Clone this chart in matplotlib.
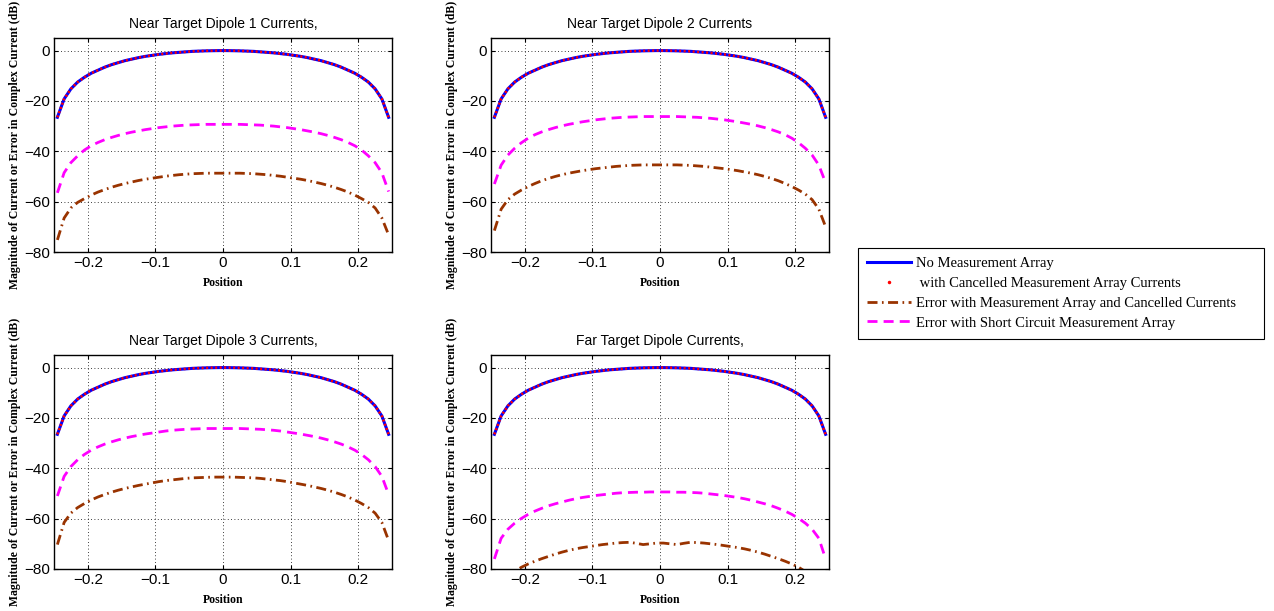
import numpy as np
import matplotlib
matplotlib.use('Agg')
import matplotlib.pyplot as plt
from matplotlib.lines import Line2D

plt.rcParams['font.family'] = 'Liberation Sans'
plt.rcParams['axes.unicode_minus'] = True

## positions along the dipole
position = [-0.245, -0.235, -0.225, -0.215, -0.205, -0.195, -0.185, -0.175, -0.165, -0.155,
            -0.145, -0.135, -0.125, -0.115, -0.105, -0.095, -0.085, -0.075, -0.065, -0.055,
            -0.045, -0.035, -0.025, -0.015, -0.005, 0.005, 0.015, 0.025, 0.035, 0.045,
            0.055, 0.065, 0.075, 0.085, 0.095, 0.105, 0.115, 0.125, 0.135, 0.145,
            0.155, 0.165, 0.175, 0.185, 0.195, 0.205, 0.215, 0.225, 0.235, 0.245]

## no measurement array (same in every panel, cancelled currents lie on top of it)
no_array = [-26.5, -19.2, -15.2, -12.5, -10.6, -9.0, -7.8, -6.6, -5.6, -4.8,
            -4.0, -3.4, -2.8, -2.3, -1.9, -1.5, -1.2, -0.9, -0.7, -0.5,
            -0.3, -0.2, -0.1, -0.05, 0.0, 0.0, -0.05, -0.1, -0.2, -0.3,
            -0.5, -0.7, -0.9, -1.2, -1.5, -1.9, -2.3, -2.8, -3.4, -4.0,
            -4.8, -5.6, -6.6, -7.8, -9.0, -10.6, -12.5, -15.2, -19.2, -26.5]
cancelled = [-26.5, -19.2, -15.2, -12.5, -10.6, -9.0, -7.8, -6.6, -5.6, -4.8,
             -4.0, -3.4, -2.8, -2.3, -1.9, -1.5, -1.2, -0.9, -0.7, -0.5,
             -0.3, -0.2, -0.1, -0.05, 0.0, 0.0, -0.05, -0.1, -0.2, -0.3,
             -0.5, -0.7, -0.9, -1.2, -1.5, -1.9, -2.3, -2.8, -3.4, -4.0,
             -4.8, -5.6, -6.6, -7.8, -9.0, -10.6, -12.5, -15.2, -19.2, -26.5]

## error with short circuit measurement array
short_d1 = [-56.5, -48.5, -44.5, -41.8, -39.5, -37.8, -36.5, -35.4, -34.5, -33.7,
            -33.0, -32.4, -31.9, -31.4, -31.0, -30.6, -30.3, -30.0, -29.8, -29.6,
            -29.5, -29.4, -29.3, -29.3, -29.3, -29.3, -29.3, -29.3, -29.4, -29.5,
            -29.6, -29.8, -30.0, -30.3, -30.6, -31.0, -31.4, -31.9, -32.4, -33.0,
            -33.7, -34.5, -35.4, -36.5, -37.8, -39.5, -41.8, -44.5, -48.5, -56.0]
short_d2 = [-53.0, -45.5, -41.5, -38.8, -36.6, -34.8, -33.4, -32.3, -31.4, -30.6,
            -29.9, -29.3, -28.8, -28.3, -27.9, -27.5, -27.2, -26.9, -26.7, -26.5,
            -26.4, -26.3, -26.2, -26.2, -26.2, -26.2, -26.2, -26.2, -26.3, -26.4,
            -26.5, -26.7, -26.9, -27.2, -27.5, -27.9, -28.3, -28.8, -29.3, -29.9,
            -30.6, -31.4, -32.3, -33.4, -34.8, -36.6, -38.8, -41.5, -45.5, -52.5]
short_d3 = [-51.0, -43.2, -39.3, -36.6, -34.5, -32.8, -31.5, -30.4, -29.5, -28.7,
            -28.0, -27.4, -26.9, -26.4, -26.0, -25.6, -25.2, -24.9, -24.7, -24.5,
            -24.4, -24.3, -24.2, -24.2, -24.2, -24.2, -24.2, -24.2, -24.3, -24.4,
            -24.5, -24.7, -24.9, -25.2, -25.6, -26.0, -26.4, -26.9, -27.4, -28.0,
            -28.7, -29.5, -30.4, -31.5, -32.8, -34.5, -36.6, -39.3, -43.2, -50.4]
short_far = [-76.0, -67.8, -64.2, -61.8, -59.9, -58.3, -57.0, -55.9, -54.9, -54.1,
             -53.4, -52.7, -52.1, -51.6, -51.2, -50.8, -50.5, -50.2, -49.9, -49.7,
             -49.6, -49.5, -49.5, -49.4, -49.4, -49.4, -49.4, -49.5, -49.5, -49.6,
             -49.7, -49.9, -50.2, -50.5, -50.8, -51.2, -51.6, -52.1, -52.7, -53.4,
             -54.1, -54.9, -55.9, -57.0, -58.3, -59.9, -61.8, -64.2, -67.8, -76.0]

## error with measurement array and cancelled currents
cancel_d1 = [-75.2, -66.5, -62.5, -60.3, -58.8, -57.4, -56.2, -55.2, -54.3, -53.5,
             -52.8, -52.2, -51.6, -51.1, -50.7, -50.3, -49.9, -49.6, -49.3, -49.1,
             -48.9, -48.8, -48.7, -48.7, -48.7, -48.7, -48.7, -48.7, -48.8, -48.9,
             -49.1, -49.3, -49.6, -49.9, -50.3, -50.7, -51.1, -51.6, -52.2, -52.8,
             -53.5, -54.3, -55.2, -56.2, -57.4, -58.8, -60.3, -62.5, -66.5, -73.2]
cancel_d2 = [-71.5, -63.0, -59.2, -57.0, -55.4, -54.0, -52.8, -51.7, -50.8, -50.0,
             -49.3, -48.7, -48.2, -47.7, -47.3, -46.9, -46.6, -46.3, -46.0, -45.8,
             -45.6, -45.5, -45.4, -45.4, -45.4, -45.4, -45.4, -45.4, -45.5, -45.6,
             -45.8, -46.0, -46.3, -46.6, -46.9, -47.3, -47.7, -48.2, -48.7, -49.3,
             -50.0, -50.8, -51.7, -52.8, -54.0, -55.4, -57.0, -59.2, -63.0, -70.0]
cancel_d3 = [-70.3, -61.5, -57.8, -55.6, -54.0, -52.6, -51.4, -50.4, -49.5, -48.7,
             -48.0, -47.4, -46.8, -46.3, -45.8, -45.3, -44.9, -44.6, -44.3, -44.0,
             -43.8, -43.7, -43.6, -43.5, -43.5, -43.5, -43.5, -43.6, -43.7, -43.8,
             -44.0, -44.3, -44.6, -44.9, -45.3, -45.8, -46.3, -46.8, -47.4, -48.0,
             -48.7, -49.5, -50.4, -51.4, -52.6, -54.0, -55.6, -57.8, -61.5, -68.7]
cancel_far = [-92.0, -86.0, -83.0, -81.0, -79.3, -78.0, -76.9, -75.9, -75.0, -74.1,
              -73.3, -72.6, -72.0, -71.5, -71.1, -70.7, -70.3, -70.0, -69.7, -69.5,
              -69.4, -69.8, -70.3, -70.0, -69.7, -69.7, -70.0, -70.3, -69.8, -69.4,
              -69.5, -69.7, -70.0, -70.3, -70.7, -71.1, -71.5, -72.0, -72.6, -73.3,
              -74.1, -75.0, -75.9, -76.9, -78.0, -79.3, -81.0, -83.0, -86.0, -92.0]

titles = ['Near Target Dipole 1 Currents,', 'Near Target Dipole 2 Currents',
          'Near Target Dipole 3 Currents,', 'Far Target Dipole Currents,']
short_all = [short_d1, short_d2, short_d3, short_far]
cancel_all = [cancel_d1, cancel_d2, cancel_d3, cancel_far]

brown = '#993300'
serif = 'Liberation Serif'

fig = plt.figure(figsize=(12.74, 6.11), dpi=100)
W, H = 1274., 611.
boxes = [(54, 38), (491, 38), (54, 355), (491, 355)]  # pixel left/top of each panel

for i in range(4):
    l, t = boxes[i]
    ax = fig.add_axes([l/W, 1 - (t + 214)/H, 338/W, 214/H])
    ax.plot(position, no_array, color='#0000ff', lw=2.2)
    ax.plot(position, cancelled, color='#ff0000', lw=1.8, dashes=(0.8, 1.0))
    ax.plot(position, cancel_all[i], color=brown, lw=2, dashes=(3.6, 1.6, 0.6, 1.6))
    ax.plot(position, short_all[i], color='#ff00ff', lw=2, dashes=(3.6, 2.2))
    ax.set_xlim(-0.25, 0.25)
    ax.set_ylim(-80, 5)
    ax.set_xticks([-0.2, -0.1, 0, 0.1, 0.2])
    ax.set_xticklabels(['\u22120.2', '\u22120.1', '0', '0.1', '0.2'])
    ax.set_yticks([-80, -60, -40, -20, 0])
    ax.grid(True, color='k', linestyle=(0, (1, 3)), linewidth=0.6)
    ax.tick_params(direction='in', labelsize=11, top=True, right=True, length=3, pad=3)
    for s in ax.spines.values():
        s.set_linewidth(1.0)
    ax.set_title(titles[i], fontsize=10, pad=7)
    ax.set_xlabel('Position', fontfamily=serif, fontweight='bold', fontsize=8.5, labelpad=5)
    ax.set_ylabel('Magnitude of Current or Error in Complex Current (dB)',
                  fontfamily=serif, fontweight='bold', fontsize=8.5, labelpad=2)

## legend, stretched to the box width like the original
handles = [Line2D([], [], color='#0000ff', lw=2.2),
           Line2D([], [], color='#ff0000', ls='none', marker='.', markersize=3),
           Line2D([], [], color=brown, lw=2, dashes=(3.6, 1.6, 0.6, 1.6)),
           Line2D([], [], color='#ff00ff', lw=2, dashes=(3.6, 2.2))]
labels = ['No Measurement Array',
          ' with Cancelled Measurement Array Currents',
          'Error with Measurement Array and Cancelled Currents',
          'Error with Short Circuit Measurement Array']
leg = fig.legend(handles, labels, loc='upper left',
                 bbox_to_anchor=(858/W, 1 - 337/H, 406/W, 89/H), mode='expand',
                 prop={'family': serif, 'size': 10.5}, fancybox=False, edgecolor='k',
                 framealpha=1, handlelength=3.0, handletextpad=0.35, labelspacing=0.45,
                 borderpad=0.62, borderaxespad=0)
leg.get_frame().set_linewidth(0.8)

fig.savefig('out.png', dpi=100)
